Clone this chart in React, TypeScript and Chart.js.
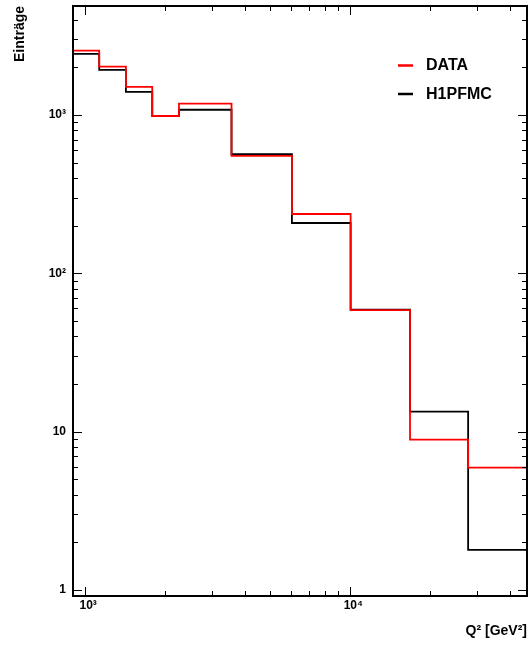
import React, { useEffect, useRef } from 'react';
import { Chart, registerables } from 'chart.js';

Chart.register(...registerables);

// Bin edges of the Q^2 histogram [GeV^2]
const binEdges = [900, 1130, 1425, 1791, 2259, 3565, 6024, 10030, 16800, 27830, 46400];
// Entries per bin
const dataValues = [2553, 2023, 1504, 986, 1179, 552, 237, 58.6, 8.9, 5.92];
const mcValues = [2433, 1927, 1399, 986, 1080, 566, 208, 59, 13.4, 1.79];
const seriesNames = ['DATA', 'H1PFMC'];
const seriesColors = ['#ff0000', '#000000'];

// Axis ranges
const xRange = [900, 46400];
const yRange = [0.916, 4883];

// Ticks
const xMajorTicks = [1000, 10000];
const xTickLabels = ['10³', '10⁴'];
const xMinorTicks = [2000, 3000, 4000, 5000, 6000, 7000, 8000, 9000, 20000, 30000, 40000];
const yMajorTicks = [1, 10, 100, 1000];
const yTickLabels = ['1', '10', '10²', '10³'];
const yMinorTicks = [
  2, 3, 4, 5, 6, 7, 8, 9,
  20, 30, 40, 50, 60, 70, 80, 90,
  200, 300, 400, 500, 600, 700, 800, 900,
  2000, 3000, 4000,
];

const xTitle = 'Q² [GeV²]';
const yTitle = 'Einträge';
const FONT = '"Liberation Sans", Arial, Helvetica, sans-serif';
const FLOOR = 0.3; // below axis minimum, used for the outer vertical edges

function stepPoints(edges: number[], values: number[]) {
  const pts: { x: number; y: number }[] = [{ x: edges[0], y: FLOOR }];
  values.forEach((v, i) => pts.push({ x: edges[i], y: v }));
  pts.push({ x: edges[edges.length - 1], y: values[values.length - 1] });
  pts.push({ x: edges[edges.length - 1], y: FLOOR });
  return pts;
}

const frameTicksPlugin = {
  id: 'frameTicks',
  afterDatasetsDraw(chart: any) {
    const { ctx, chartArea: a, scales } = chart;
    const x = scales.x;
    const y = scales.y;
    ctx.save();
    ctx.strokeStyle = '#000';
    ctx.lineWidth = 1;
    const seg = (x1: number, y1: number, x2: number, y2: number) => {
      ctx.beginPath();
      ctx.moveTo(x1, y1);
      ctx.lineTo(x2, y2);
      ctx.stroke();
    };
    const xt = (vals: number[], len: number) =>
      vals.forEach((v) => {
        const px = Math.round(x.getPixelForValue(v)) + 0.5;
        if (px < a.left || px > a.right) return;
        seg(px, a.bottom, px, a.bottom - len);
        seg(px, a.top, px, a.top + len);
      });
    const yt = (vals: number[], len: number) =>
      vals.forEach((v) => {
        const py = Math.round(y.getPixelForValue(v)) + 0.5;
        if (py < a.top || py > a.bottom) return;
        seg(a.left, py, a.left + len, py);
        seg(a.right, py, a.right - len, py);
      });
    xt(xMajorTicks, 9);
    xt(xMinorTicks, 5);
    yt(yMajorTicks, 9);
    yt(yMinorTicks, 5);
    ctx.lineWidth = 2;
    ctx.strokeRect(a.left, a.top, a.right - a.left, a.bottom - a.top);
    ctx.restore();
  },
};

const legendPlugin = {
  id: 'histLegend',
  afterDraw(chart: any) {
    const { ctx } = chart;
    ctx.save();
    chart.data.datasets.forEach((ds: any, i: number) => {
      const yy = 65.5 + i * 28.5;
      ctx.strokeStyle = ds.borderColor;
      ctx.lineWidth = 2.5;
      ctx.beginPath();
      ctx.moveTo(398, yy);
      ctx.lineTo(413, yy);
      ctx.stroke();
      ctx.fillStyle = '#000';
      ctx.font = `bold 16px ${FONT}`;
      ctx.textAlign = 'left';
      ctx.textBaseline = 'middle';
      ctx.fillText(ds.label, 426, yy + 0.5);
    });
    ctx.restore();
  },
};

export default function App() {
  const ref = useRef<HTMLCanvasElement | null>(null);

  useEffect(() => {
    document.body.style.margin = '0';
    const canvas = ref.current;
    if (!canvas) return;
    const chart = new Chart(canvas, {
      type: 'line',
      data: {
        datasets: [
          {
            label: seriesNames[0],
            data: stepPoints(binEdges, dataValues),
            borderColor: seriesColors[0],
            borderWidth: 1.8,
            pointRadius: 0,
            stepped: 'before',
            fill: false,
          },
          {
            label: seriesNames[1],
            data: stepPoints(binEdges, mcValues),
            borderColor: seriesColors[1],
            borderWidth: 1.8,
            pointRadius: 0,
            stepped: 'before',
            fill: false,
          },
        ],
      },
      options: {
        animation: false,
        responsive: false,
        events: [],
        layout: { padding: { top: 6, right: 1, left: 0, bottom: 0 } },
        plugins: { legend: { display: false }, tooltip: { enabled: false } },
        scales: {
          x: {
            type: 'logarithmic',
            min: xRange[0],
            max: xRange[1],
            afterBuildTicks: (s: any) => {
              s.ticks = xMajorTicks.map((v) => ({ value: v }));
            },
            afterFit: (s: any) => {
              s.height = 51;
              s.paddingLeft = 0;
              s.paddingRight = 0;
            },
            grid: { display: false, drawTicks: false },
            border: { display: false },
            ticks: {
              autoSkip: false,
              maxRotation: 0,
              padding: 2,
              labelOffset: 3,
              color: '#000',
              font: { family: FONT, size: 12, weight: 'bold' },
              callback: (_v: any, i: number) => xTickLabels[i],
            },
            title: {
              display: true,
              text: xTitle,
              align: 'end',
              color: '#000',
              font: { family: FONT, size: 14, weight: 'bold' },
              padding: { top: 0, bottom: 7 },
            },
          },
          y: {
            type: 'logarithmic',
            min: yRange[0],
            max: yRange[1],
            afterBuildTicks: (s: any) => {
              s.ticks = yMajorTicks.map((v) => ({ value: v }));
            },
            afterFit: (s: any) => {
              s.width = 73;
              s.paddingTop = 0;
              s.paddingBottom = 0;
            },
            grid: { display: false, drawTicks: false },
            border: { display: false },
            ticks: {
              autoSkip: false,
              padding: 7,
              color: '#000',
              font: { family: FONT, size: 12, weight: 'bold' },
              callback: (_v: any, i: number) => yTickLabels[i],
            },
            title: {
              display: true,
              text: yTitle,
              align: 'end',
              color: '#000',
              font: { family: FONT, size: 14, weight: 'bold' },
              padding: { top: 12, bottom: 0 },
            },
          },
        },
      } as any,
      plugins: [frameTicksPlugin, legendPlugin],
    });
    return () => chart.destroy();
  }, []);

  return (
    <div style={{ position: 'absolute', left: 0, top: 0, width: 528, height: 647 }}>
      <canvas ref={ref} width={528} height={647} style={{ display: 'block' }} />
    </div>
  );
}
